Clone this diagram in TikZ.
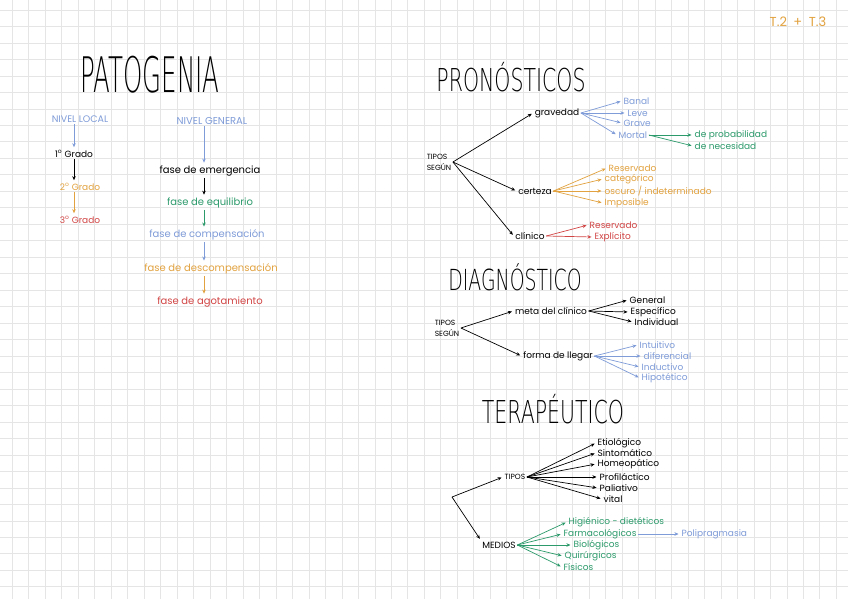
\documentclass[tikz,border=0pt]{standalone}
\usepackage{fontspec}
\setmainfont{Poppins}
\newfontfamily\titlefont[FakeStretch=0.65]{DejaVu Sans ExtraLight}
\newfontfamily\patofont[FakeStretch=0.5]{DejaVu Sans ExtraLight}
\usetikzlibrary{positioning,arrows.meta}

\definecolor{softblue}{HTML}{7F9CD8}
\definecolor{softorange}{HTML}{E2A23F}
\definecolor{softgreen}{HTML}{2C9A6B}
\definecolor{softred}{HTML}{D24545}

\begin{document}
\begin{tikzpicture}[
    x=1pt, y=-1pt,
    gridline/.style={draw=black!10, line width=0.7pt},
    heading/.style={font=\titlefont\fontsize{#1}{#1}\selectfont, inner sep=0pt, anchor=base},
    item/.style={font=\fontsize{#1}{#1}\selectfont, inner sep=1.5pt},
    item/.default=9,
    tag/.style={font=\fontsize{#1}{11}\selectfont, inner sep=1.5pt},
    tag/.default=7.5,
    arrow/.style={-{Stealth[length=4pt,width=3.5pt]}, line width=0.7pt, shorten >=1.5pt}
]

% Grid paper
\useasboundingbox (0,0) rectangle (848,599);
\fill[white] (0,0) rectangle (848,599);
\foreach \i in {0,...,50} \draw[gridline] ({12.3+16.48*\i},0) -- ++(0,599);
\foreach \j in {0,...,35} \draw[gridline] (0,{10+16.48*\j}) -- ++(848,0);

% Corner note
\node[font=\fontsize{13}{13}\selectfont, text=softorange] (note) at (798,22) {T.2\enspace+\enspace T.3};

% Patogenia
\node[inner sep=0pt, anchor=base, font=\patofont\fontsize{49}{49}\selectfont] (patogenia) at (150,93) {PATOGENIA};

\node[tag=9.5, text=softblue] (local) at (80,119) {NIVEL LOCAL};
\node[item] (g1) at (74,154) {1\textsuperscript{o} Grado};
\node[item, text=softorange] (g2) at (80,187) {2\textsuperscript{o} Grado};
\node[item, text=softred] (g3) at (80,220) {3\textsuperscript{o} Grado};
\draw[arrow, softblue] (local.south -| g1.north) -- (g1.north);
\draw[arrow] (g1.south) -- (g1.south |- g2.north);
\draw[arrow, softorange] (g1.south |- g2.south) -- (g1.south |- g3.north);

\coordinate (col) at (204,0);
\node[tag=10, text=softblue] (general) at (212,121) {NIVEL GENERAL};
\node[item=10] (emergencia) at (210,171) {fase de emergencia};
\node[item=10, text=softgreen] (equilibrio) at (210,203) {fase de equilibrio};
\node[item=10, text=softblue] (compensacion) at (207,235) {fase de compensación};
\node[item=10, text=softorange] (descompensacion) at (211,269) {fase de descompensación};
\node[item=10, text=softred] (agotamiento) at (210,302) {fase de agotamiento};
\foreach \a/\b/\c in {general/emergencia/softblue, emergencia/equilibrio/black,
    equilibrio/compensacion/softgreen, compensacion/descompensacion/softblue,
    descompensacion/agotamiento/softorange}
    \draw[arrow, \c] (\a.south -| col) -- (\b.north -| col);

% Pronosticos
\node[heading=31.5] (pronosticos) at (511,92) {PRONÓSTICOS};

\node[tag, align=left] (tipospro) at (439,162) {TIPOS\\SEGÚN};
\node[item] (gravedad) at (557,113) {gravedad};
\node[item] (certeza) at (535,191) {certeza};
\node[item] (clinico) at (530,236) {clínico};
\foreach \n in {gravedad,certeza,clinico}
    \draw[arrow] (tipospro.east) -- (\n.west);

\begin{scope}[every node/.style={item, anchor=west, text=softblue}]
\node (banal) at (622,101) {Banal};
\node (leve) at (626,113) {Leve};
\node (grave) at (622,123) {Grave};
\node (mortal) at (617,135) {Mortal};
\end{scope}
\foreach \n in {banal,leve,grave,mortal}
    \draw[arrow, softblue] (gravedad.east) -- (\n.west);

\node[item, anchor=west, text=softgreen] (probabilidad) at (693,135) {de probabilidad};
\node[item, anchor=west, text=softgreen] (necesidad) at (693,146) {de necesidad};
\foreach \n in {probabilidad,necesidad}
    \draw[arrow, softgreen] (mortal.east) -- (\n.west);

\begin{scope}[every node/.style={item, anchor=west, text=softorange}]
\node (reservado) at (607,168) {Reservado};
\node (categorico) at (603,179) {categórico};
\node (oscuro) at (603,191) {oscuro / indeterminado};
\node (imposible) at (603,203) {Imposible};
\end{scope}
\foreach \n in {reservado,categorico,oscuro,imposible}
    \draw[arrow, softorange] (certeza.east) -- (\n.west);

\node[item, anchor=west, text=softred] (reservadoc) at (588,225) {Reservado};
\node[item, anchor=west, text=softred] (explicito) at (593,237) {Explícito};
\foreach \n in {reservadoc,explicito}
    \draw[arrow, softred] (clinico.east) -- (\n.west);

% Diagnostico
\node[heading=29] (diagnostico) at (515,290) {DIAGNÓSTICO};

\node[tag, align=left] (tiposdiag) at (447,328) {TIPOS\\SEGÚN};
\node[item] (meta) at (551,311) {meta del clínico};
\node[item] (forma) at (558,356) {forma de llegar};
\foreach \n in {meta,forma}
    \draw[arrow] (tiposdiag.east) -- (\n.west);

\begin{scope}[every node/.style={item, anchor=west}]
\node (general2) at (628,300) {General};
\node (especifico) at (629,312) {Específico};
\node (individual) at (633,322) {Individual};
\end{scope}
\foreach \n in {general2,especifico,individual}
    \draw[arrow] (meta.east) -- (\n.west);

\begin{scope}[every node/.style={item, anchor=west, text=softblue}]
\node (intuitivo) at (638,345) {Intuitivo};
\node (diferencial) at (642,356) {diferencial};
\node (inductivo) at (640,367) {Inductivo};
\node (hipotetico) at (640,378) {Hipotético};
\end{scope}
\foreach \n in {intuitivo,diferencial,inductivo,hipotetico}
    \draw[arrow, softblue] (forma.east) -- (\n.west);

% Terapeutico
\node[heading=31.5] (terapeutico) at (553,423) {TERAPÉUTICO};

\coordinate (split) at (452,497);
\node[tag] (tipos) at (515,477) {TIPOS};
\node[tag=9] (medios) at (499,545) {MEDIOS};
\draw[arrow] (split) -- (tipos.west);
\draw[arrow] (split) -- (medios.north west);

\begin{scope}[every node/.style={item, anchor=west}]
\node (etiologico) at (596,443) {Etiológico};
\node (sintomatico) at (596,453) {Sintomático};
\node (homeopatico) at (596,464) {Homeopático};
\node (profilactico) at (598,477) {Profiláctico};
\node (paliativo) at (598,488) {Paliativo};
\node (vital) at (602,499) {vital};
\end{scope}
\foreach \n in {etiologico,sintomatico,homeopatico,profilactico,paliativo,vital}
    \draw[arrow] (tipos.east) -- (\n.west);

\begin{scope}[every node/.style={item, anchor=west, text=softgreen}]
\node (higienico) at (567,522) {Higiénico - dietéticos};
\node (farmaco) at (562,534) {Farmacológicos};
\node (biologicos) at (572,545) {Biológicos};
\node (quirurgicos) at (563,556) {Quirúrgicos};
\node (fisicos) at (562,567) {Físicos};
\end{scope}
\foreach \n in {higienico,farmaco,biologicos,quirurgicos,fisicos}
    \draw[arrow, softgreen] (medios.east) -- (\n.west);

\node[item, anchor=west, text=softblue] (polipragmasia) at (680,534) {Polipragmasia};
\draw[arrow, softblue, line width=0.5pt] (farmaco.east) -- (polipragmasia.west);

\end{tikzpicture}
\end{document}
